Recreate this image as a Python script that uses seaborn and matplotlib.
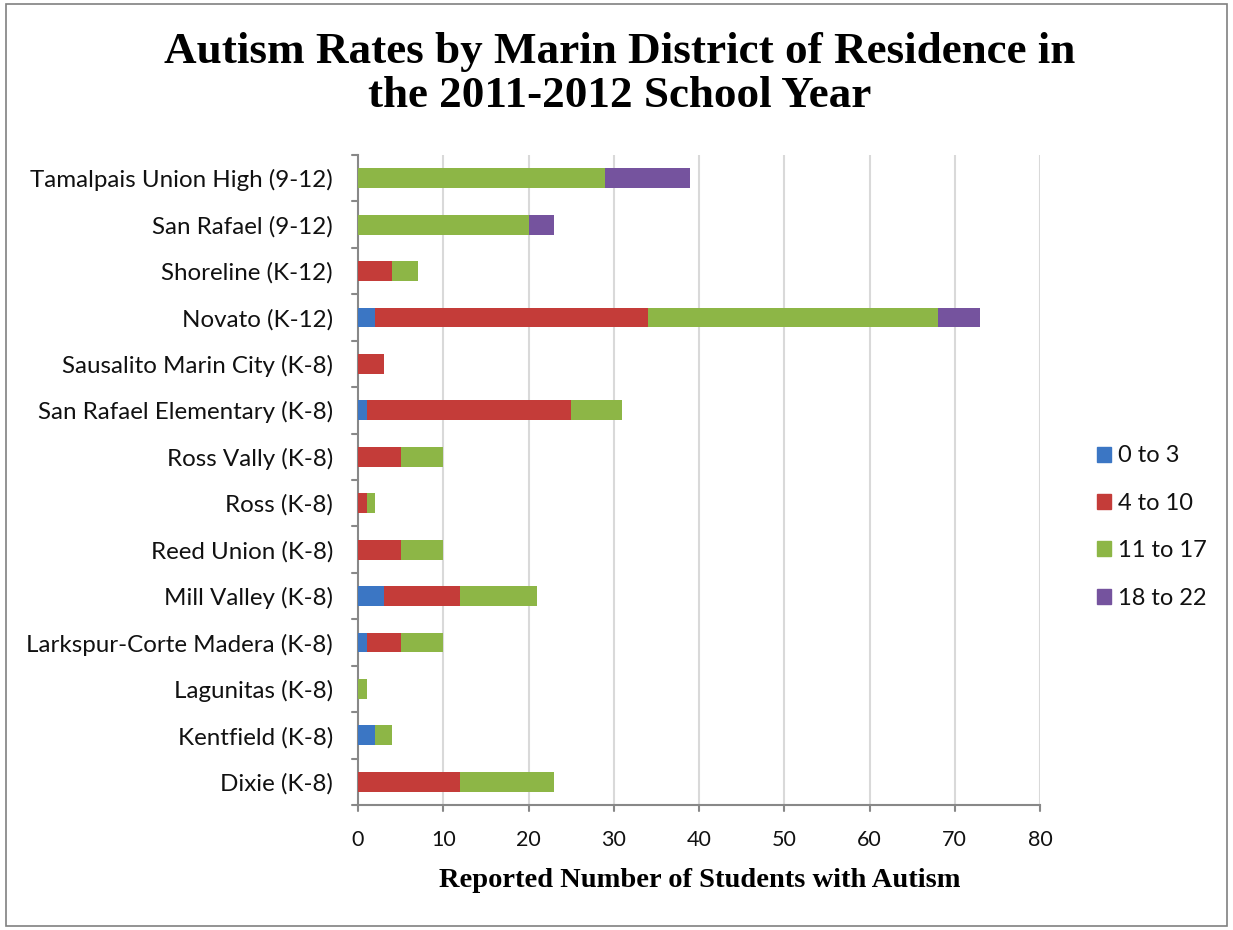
import matplotlib
matplotlib.use("Agg")
import matplotlib.pyplot as plt
import matplotlib.patches as mpatches
import seaborn as sns
import pandas as pd
import numpy as np

districts = [
    "Tamalpais Union High (9-12)", "San Rafael (9-12)", "Shoreline (K-12)",
    "Novato (K-12)", "Sausalito Marin City (K-8)", "San Rafael Elementary (K-8)",
    "Ross Vally (K-8)", "Ross (K-8)", "Reed Union (K-8)", "Mill Valley (K-8)",
    "Larkspur-Corte Madera (K-8)", "Lagunitas (K-8)", "Kentfield (K-8)", "Dixie (K-8)",
]
age_0_3 =   [0, 0, 0, 2, 0, 1, 0, 0, 0, 3, 1, 0, 2, 0]
age_4_10 =  [0, 0, 4, 32, 3, 24, 5, 1, 5, 9, 4, 0, 0, 12]
age_11_17 = [29, 20, 3, 34, 0, 6, 5, 1, 5, 9, 5, 1, 2, 11]
age_18_22 = [10, 3, 0, 5, 0, 0, 0, 0, 0, 0, 0, 0, 0, 0]
series_names = ["0 to 3", "4 to 10", "11 to 17", "18 to 22"]
colors = ["#3B76C4", "#C43C39", "#8DB646", "#75539E"]
x_ticks = [0, 10, 20, 30, 40, 50, 60, 70, 80]

sns.set_theme(style="white")
plt.rcParams['font.family'] = ['Lato', 'DejaVu Sans']

fig = plt.figure(figsize=(12.33, 9.3), dpi=100)
ax = fig.add_axes([358/1233, 1 - 805/930, (1040-358)/1233, (805-155)/930])

series = [age_0_3, age_4_10, age_11_17, age_18_22]
cum = np.cumsum(np.array(series), axis=0)
df = pd.DataFrame({"district": districts})
for i in range(4):
    df[f"c{i}"] = cum[i]

for i in reversed(range(4)):
    sns.barplot(data=df, y="district", x=f"c{i}", order=districts, color=colors[i],
                orient="h", width=0.43, ax=ax, saturation=1, linewidth=0, zorder=3)

ax.set_xlim(0, 80)
ax.set_xticks(x_ticks)
ax.set_xticklabels([str(t) for t in x_ticks], fontsize=15.5, color="#111111")
ax.set_ylim(len(districts) - 0.5, -0.5)
ax.set_yticks(np.arange(len(districts)))
ax.set_yticklabels(districts, fontsize=17.4, color="#111111")
ax.tick_params(axis="y", length=0, pad=18)
ax.tick_params(axis="x", length=0, pad=18)
# boundary ticks on y axis
for b in np.arange(-0.5, len(districts) + 0.5, 1):
    ax.plot([-0.7, 0], [b, b], color="#888888", lw=1.5, clip_on=False, zorder=4)
for t in x_ticks:
    ax.plot([t, t], [len(districts) - 0.5, len(districts) - 0.5 + 0.13], color="#888888",
            lw=1.5, clip_on=False, zorder=4)
for t in x_ticks[1:]:
    ax.axvline(t, color="#D9D9D9", lw=1.5, zorder=1)

for s in ["top", "right"]:
    ax.spines[s].set_visible(False)
for s in ["left", "bottom"]:
    ax.spines[s].set_color("#888888")
    ax.spines[s].set_linewidth(1.5)
ax.set_xlabel("")
ax.set_ylabel("")

fig.text(620/1233, 1 - 74/930, "Autism Rates by Marin District of Residence in\nthe 2011-2012 School Year",
         ha="center", va="center", fontsize=32.5, fontweight="bold", family="Liberation Serif",
         linespacing=1.12, color="#000000")
fig.text(700/1233, 1 - 880/930, "Reported Number of Students with Autism", ha="center", va="center",
         fontsize=20.5, fontweight="bold", family="Liberation Serif", color="#000000")

handles = [mpatches.Patch(color=c, label=n) for c, n in zip(colors, series_names)]
fig.legend(handles=handles, loc="center left", bbox_to_anchor=(1097/1233, 1 - 527/930),
           frameon=False, fontsize=17, handlelength=0.6, handleheight=0.6,
           handletextpad=0.3, labelspacing=1.12, borderpad=0, borderaxespad=0,
           labelcolor="#111111")

fig.add_artist(mpatches.Rectangle((6/1233, 4/930), 1221/1233, 922/930, transform=fig.transFigure,
                                  fill=False, edgecolor="#808080", lw=1.2))

fig.savefig("out.png", dpi=100)
